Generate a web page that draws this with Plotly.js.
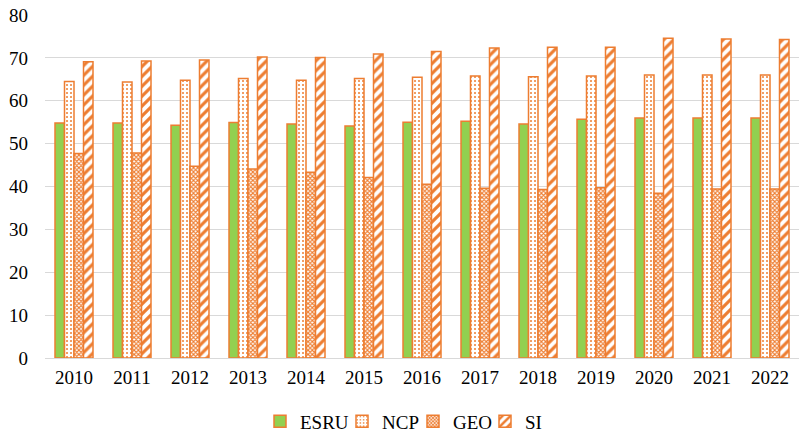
<!DOCTYPE html>
<html>
<head>
<meta charset="utf-8">
<script src="https://cdn.plot.ly/plotly-3.0.1.min.js"></script>
<style>html,body{margin:0;padding:0;background:#fff;}#chart{width:801px;height:435px;}</style>
</head>
<body>
<div id="chart"></div>
<script>
var years = ['2010','2011','2012','2013','2014','2015','2016','2017','2018','2019','2020','2021','2022'];
var esru = [54.8, 54.8, 54.3, 54.9, 54.6, 54.1, 55.0, 55.2, 54.6, 55.7, 56.0, 56.0, 56.0];
var ncp  = [64.5, 64.4, 64.8, 65.2, 64.8, 65.2, 65.5, 65.8, 65.6, 65.8, 66.0, 66.0, 66.0];
var geo  = [47.7, 47.8, 44.7, 44.1, 43.3, 42.1, 40.5, 39.6, 39.3, 39.7, 38.4, 39.4, 39.4];
var si   = [69.1, 69.3, 69.5, 70.2, 70.1, 70.9, 71.5, 72.3, 72.5, 72.5, 74.6, 74.4, 74.3];
var yTicks = [0,10,20,30,40,50,60,70,80];

var orange = '#ED7D31';
var green = '#92D050';
var fontFam = 'Times New Roman, Liberation Serif, serif';

var traces = [
  {name:'ESRU', type:'bar', x:years, y:esru, legend:'legend',
   marker:{color:green, line:{color:orange, width:1.5}}},
  {name:'NCP', type:'bar', x:years, y:ncp, legend:'legend2',
   marker:{color:'#ffffff', line:{color:orange, width:1.5},
     pattern:{shape:'.', fgcolor:orange, bgcolor:'#ffffff', size:4, solidity:0.2}}},
  {name:'GEO', type:'bar', x:years, y:geo, legend:'legend3',
   marker:{color:'#ffffff', line:{color:orange, width:1.5},
     pattern:{shape:'x', fgcolor:orange, bgcolor:'#ffffff', size:3, solidity:0.6}}},
  {name:'SI', type:'bar', x:years, y:si, legend:'legend4',
   marker:{color:'#ffffff', line:{color:orange, width:1.5},
     pattern:{shape:'/', fgcolor:orange, bgcolor:'#ffffff', size:7, solidity:0.45}}}
];

function leg(px) {
  return {orientation:'h', xref:'container', x:px/801, xanchor:'left',
    yref:'container', y:0.031, yanchor:'middle', bgcolor:'rgba(0,0,0,0)',
    font:{family:fontFam, size:19, color:'#000'}, itemwidth:30};
}

var layout = {
  width:801, height:435,
  margin:{l:45, r:2, t:15, b:77},
  paper_bgcolor:'#ffffff', plot_bgcolor:'#ffffff',
  barmode:'group', bargap:0.345, bargroupgap:0,
  font:{family:fontFam, size:19, color:'#000000'},
  showlegend:true,
  legend:leg(260), legend2:leg(342), legend3:leg(413), legend4:leg(485),
  xaxis:{type:'category', showgrid:false, showline:false, zeroline:false,
    ticks:'', ticklabelstandoff:6, tickfont:{family:fontFam, size:19}},
  yaxis:{range:[0,80], tickvals:yTicks, ticktext:yTicks.map(String),
    showgrid:true, gridcolor:'#d9d9d9', gridwidth:1,
    zeroline:true, zerolinecolor:'#d9d9d9', zerolinewidth:1,
    showline:false, ticks:'', ticklabelstandoff:16,
    tickfont:{family:fontFam, size:19}}
};

Plotly.newPlot('chart', traces, layout, {displayModeBar:false, staticPlot:true});
</script>
</body>
</html>
